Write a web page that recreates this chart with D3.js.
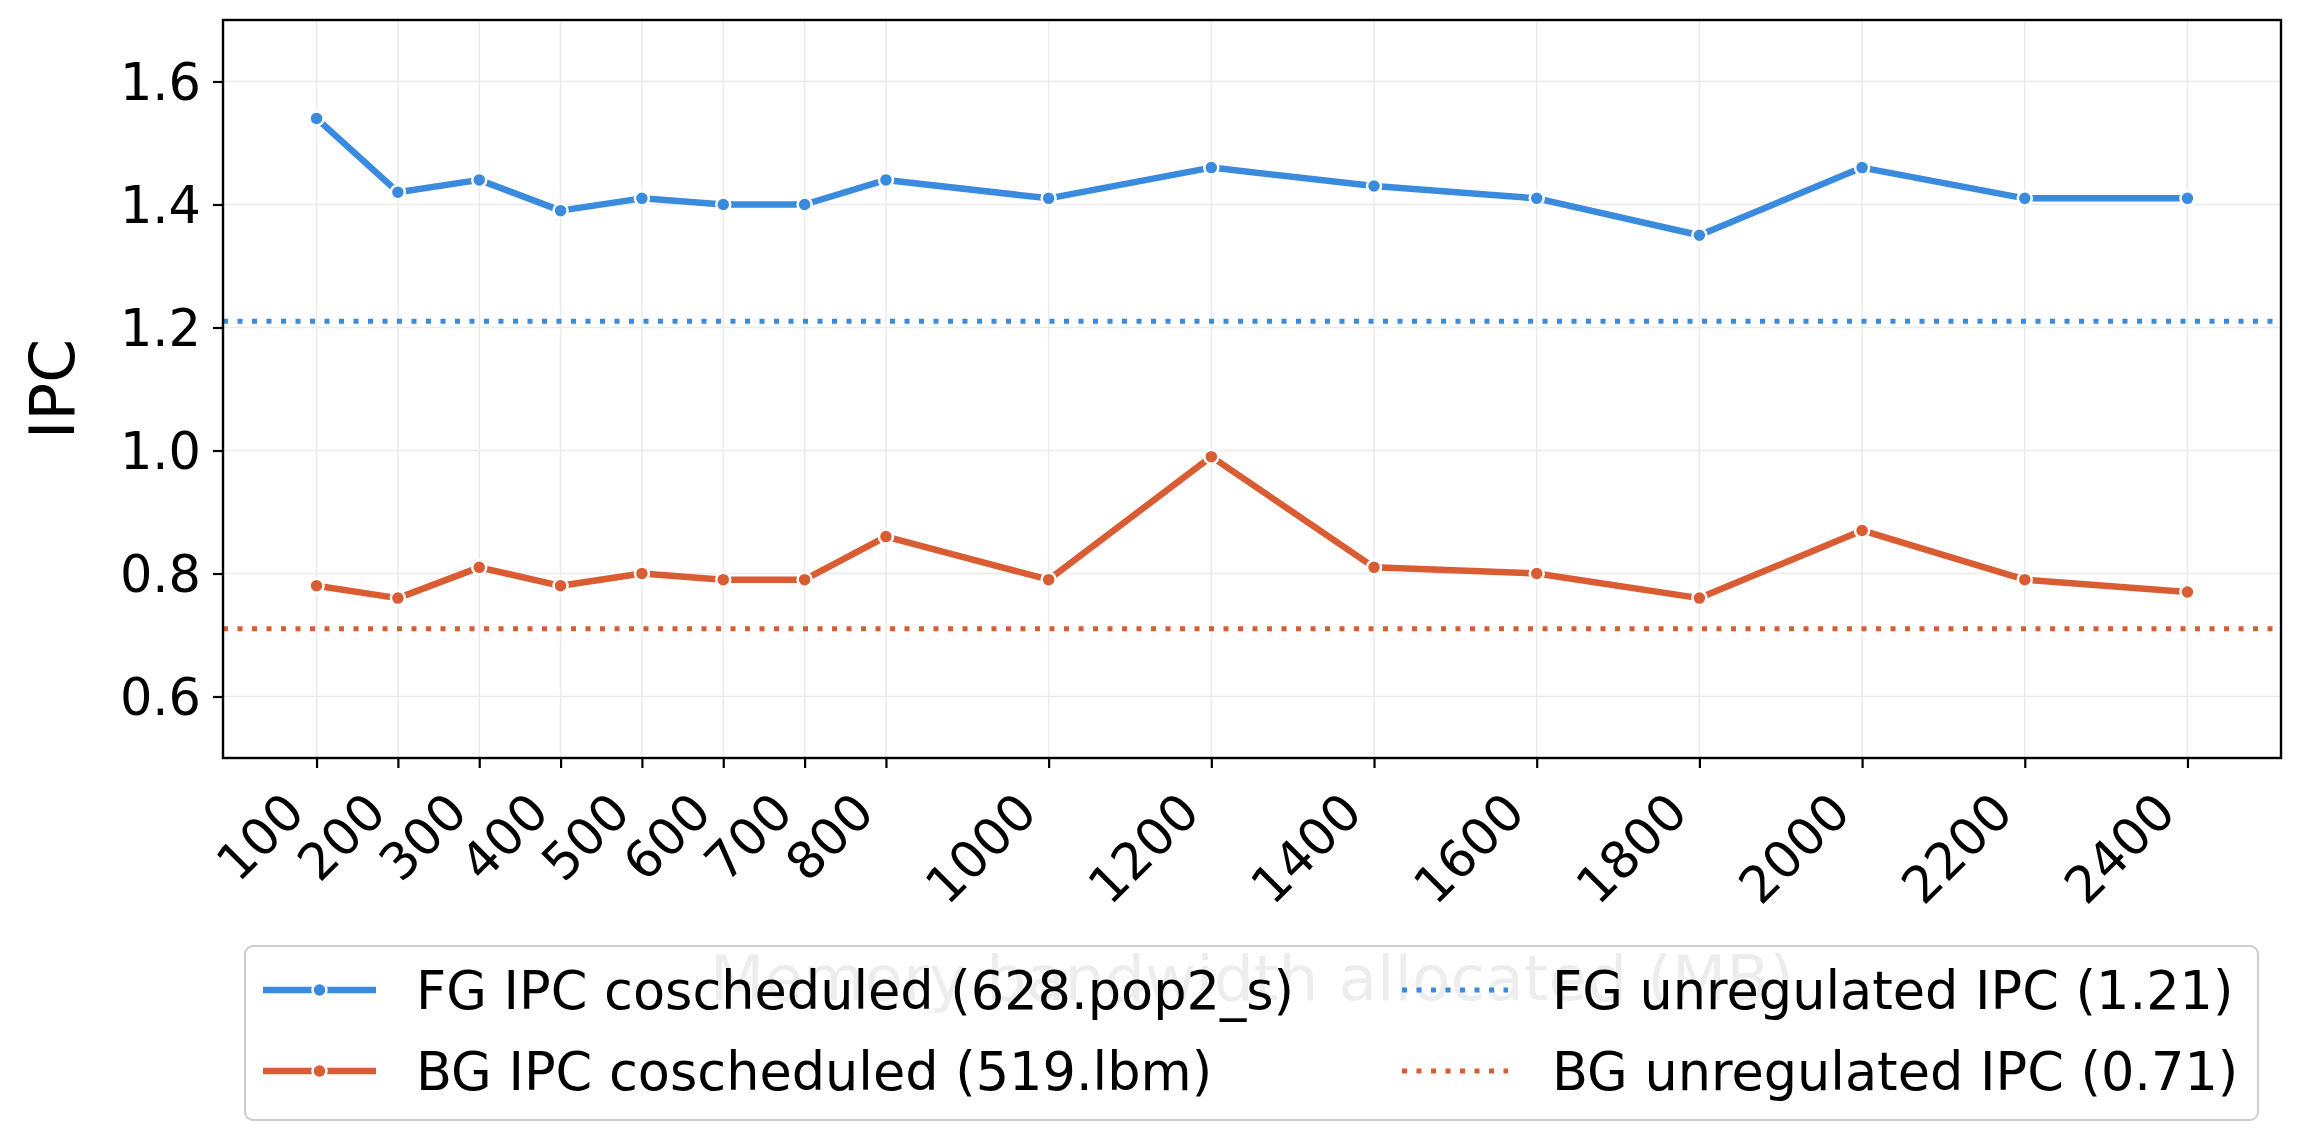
<!DOCTYPE html>
<html><head><meta charset="utf-8">
<script src="https://cdn.jsdelivr.net/npm/d3@7"></script>
<style>html,body{margin:0;padding:0;background:#fff;}svg{display:block;font-family:"DejaVu Sans",sans-serif;}</style>
</head><body><svg id="c" width="2301" height="1141"></svg>
<script>
const bandwidths = [100,200,300,400,500,600,700,800,1000,1200,1400,1600,1800,2000,2200,2400];
const fgIPC = [1.54,1.42,1.44,1.39,1.41,1.40,1.40,1.44,1.41,1.46,1.43,1.41,1.35,1.46,1.41,1.41];
const bgIPC = [0.78,0.76,0.81,0.78,0.80,0.79,0.79,0.86,0.79,0.99,0.81,0.80,0.76,0.87,0.79,0.77];
const fgUnreg = 1.21;
const bgUnreg = 0.71;
const yTicks = [0.6,0.8,1.0,1.2,1.4,1.6];
const seriesNames = ["FG IPC coscheduled (628.pop2_s)","BG IPC coscheduled (519.lbm)","FG unregulated IPC (1.21)","BG unregulated IPC (0.71)"];
const xLabel = "Memory bandwidth allocated (MB)";
const yLabel = "IPC";

const BLUE = "#3a8ade", ORANGE = "#d95c33";
const L = 223, R = 2281, T = 20, B = 758;
const svg = d3.select("#c");
const x = d3.scaleLinear().domain([-15, 2515]).range([L, R]);
const y = d3.scaleLinear().domain([0.5, 1.7]).range([B, T]);

// grid
const grid = svg.append("g");
grid.selectAll(".gx").data(bandwidths).join("line")
  .attr("x1", d => x(d)).attr("x2", d => x(d)).attr("y1", T).attr("y2", B)
  .attr("stroke", "#ebebeb").attr("stroke-width", 1.5);
grid.selectAll(".gy").data(yTicks).join("line")
  .attr("x1", L).attr("x2", R).attr("y1", d => y(d)).attr("y2", d => y(d))
  .attr("stroke", "#ebebeb").attr("stroke-width", 1.5);

// x label (drawn under legend)
svg.append("text").attr("x", (L+R)/2).attr("y", 1000).attr("text-anchor", "middle")
  .attr("font-size", 63).attr("fill", "#000").text(xLabel);

// unregulated lines
[[fgUnreg, BLUE],[bgUnreg, ORANGE]].forEach(([v,c]) => {
  svg.append("line").attr("x1", L).attr("x2", R).attr("y1", y(v)).attr("y2", y(v))
    .attr("stroke", c).attr("stroke-width", 5).attr("stroke-dasharray", "5,9.5");
});

// series
const line = d3.line().x((d,i) => x(bandwidths[i])).y(d => y(d));
[[fgIPC, BLUE],[bgIPC, ORANGE]].forEach(([vals,c]) => {
  svg.append("path").datum(vals).attr("d", line).attr("fill", "none")
    .attr("stroke", c).attr("stroke-width", 6.5).attr("stroke-linejoin", "round");
  svg.append("g").selectAll("circle").data(vals).join("circle")
    .attr("cx", (d,i) => x(bandwidths[i])).attr("cy", d => y(d)).attr("r", 7)
    .attr("fill", c).attr("stroke", "#fff").attr("stroke-width", 2.5);
});

// axes
const yAxis = d3.axisLeft(y).tickValues(yTicks).tickFormat(d3.format(".1f")).tickSize(10).tickPadding(12);
const gy = svg.append("g").attr("transform", `translate(${L},0)`).call(yAxis);
gy.select(".domain").remove();
gy.selectAll("line").attr("stroke-width", 2.2);
gy.selectAll("text").attr("font-size", 51).attr("font-family", "DejaVu Sans").attr("dy", "0.35em");

const xAxis = d3.axisBottom(x).tickValues(bandwidths).tickFormat(d => d).tickSize(10);
const gx = svg.append("g").attr("transform", `translate(0,${B})`).call(xAxis);
gx.select(".domain").remove();
gx.selectAll("line").attr("stroke-width", 2.2);
gx.selectAll("text").attr("font-size", 51).attr("font-family", "DejaVu Sans")
  .attr("text-anchor", "end").attr("dy", null).attr("y", null)
  .attr("transform", "translate(-10,57) rotate(-45)");

// frame
svg.append("rect").attr("x", L).attr("y", T).attr("width", R-L).attr("height", B-T)
  .attr("fill", "none").attr("stroke", "#000").attr("stroke-width", 2.4);

// y label
svg.append("text").attr("transform", `translate(74,${(T+B)/2}) rotate(-90)`)
  .attr("text-anchor", "middle").attr("font-size", 63).text(yLabel);

// legend
const lg = svg.append("g");
lg.append("rect").attr("x", 245).attr("y", 946).attr("width", 2258-245).attr("height", 1120-946)
  .attr("rx", 8).attr("fill", "#fff").attr("fill-opacity", 0.93).attr("stroke", "#cccccc").attr("stroke-width", 2);
const rows = [990, 1071];
[[fgIPC, BLUE, 0],[bgIPC, ORANGE, 1]].forEach(([v,c,i]) => {
  lg.append("line").attr("x1", 263).attr("x2", 376).attr("y1", rows[i]).attr("y2", rows[i])
    .attr("stroke", c).attr("stroke-width", 6.5);
  lg.append("circle").attr("cx", 319.5).attr("cy", rows[i]).attr("r", 7).attr("fill", c)
    .attr("stroke", "#fff").attr("stroke-width", 2.5);
  lg.append("text").attr("x", 416).attr("y", rows[i]).attr("dy", "0.36em").attr("font-size", 52.5).text(seriesNames[i]);
});
[[BLUE, 0],[ORANGE, 1]].forEach(([c,i]) => {
  lg.append("line").attr("x1", 1402).attr("x2", 1508).attr("y1", rows[i]).attr("y2", rows[i])
    .attr("stroke", c).attr("stroke-width", 5).attr("stroke-dasharray", "5,9.5");
  lg.append("text").attr("x", 1552).attr("y", rows[i]).attr("dy", "0.36em").attr("font-size", 52.5).text(seriesNames[2+i]);
});
</script></body></html>
